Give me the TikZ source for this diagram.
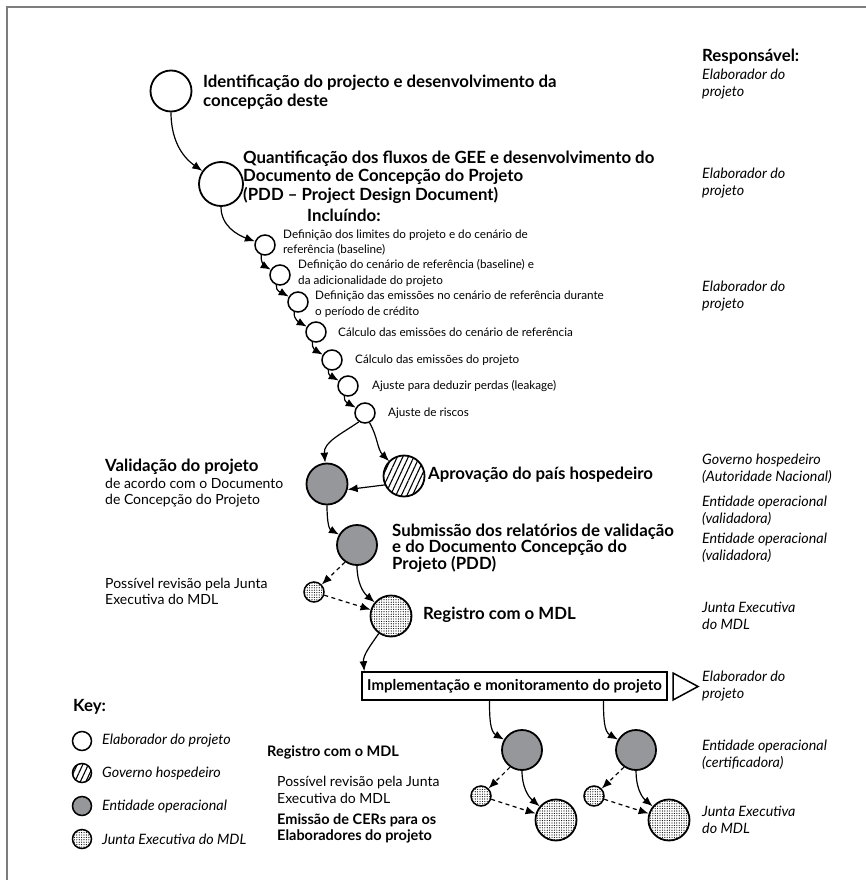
\documentclass[tikz,border=0pt]{standalone}
\usepackage{fontspec}
\setmainfont{Lato}
\usetikzlibrary{arrows.meta,patterns.meta}
\definecolor{opgray}{RGB}{150,151,154}
\definecolor{framegray}{RGB}{125,125,125}
\tikzset{stage/.style={circle,draw,line width=1.8pt,inner sep=0pt,minimum size=41pt},
    substage/.style={circle,draw,line width=1.5pt,inner sep=0pt,minimum size=20pt},
    keycircle/.style={circle,draw,line width=1.5pt,inner sep=0pt,minimum size=19pt},
    elab/.style={fill=white},
    gov/.style={pattern={Lines[angle=65,distance=5pt,line width=1.1pt]}},
    opent/.style={fill=opgray},
    junta/.style={pattern={Dots[distance=2.4pt,radius=0.6pt]}},
    flow/.style={-{Latex[length=10pt,width=8pt]},line width=1.2pt},
    review/.style={flow,dash pattern=on 4pt off 3.5pt},
    txt/.style={anchor=west,align=left,inner sep=0pt},
    headtxt/.style={txt,font=\fontsize{16.8}{18.5}\selectfont\bfseries},
    steptxt/.style={txt,font=\fontsize{11.7}{15.5}\selectfont},
    bodytxt/.style={txt,font=\fontsize{14}{16.5}\selectfont},
    resptxt/.style={txt,font=\fontsize{14.3}{16.5}\selectfont\itshape},
    legtxt/.style={txt,font=\fontsize{14.5}{16.5}\selectfont\bfseries}}

\begin{document}
\begin{tikzpicture}[x=1pt,y=1pt]
\path[use as bounding box] (0,0) rectangle (866,-883);
\draw[framegray,line width=1.5pt] (7,-880) -- (7,-7) -- (866,-7);

\node[headtxt] (resp) at (702,-57) {Responsável:};
\node[resptxt] (r1) at (702,-84) {Elaborador do\\projeto};
\node[resptxt] (r2) at (702,-183) {Elaborador do\\projeto};
\node[resptxt] (r3) at (702,-296) {Elaborador do\\projeto};
\node[resptxt] (r4) at (702,-469) {Governo hospedeiro\\(Autoridade Nacional)};
\node[resptxt] (r5) at (702,-511) {Entidade operacional\\(validadora)};
\node[resptxt] (r6) at (702,-548) {Entidade operacional\\(validadora)};
\node[resptxt] (r7) at (702,-616) {Junta Executiva\\do MDL};
\node[resptxt] (r8) at (702,-686) {Elaborador do\\projeto};
\node[resptxt] (r9) at (702,-755) {Entidade operacional\\(certificadora)};
\node[resptxt] (r10) at (702,-820) {Junta Executiva\\do MDL};

\node[stage,elab] (ident) at (171,-91) {};
\node[headtxt,font=\fontsize{16.8}{19}\selectfont\bfseries] (identt) at (203,-92.5) {Identificação do projecto e desenvolvimento da\\concepção deste};
\node[stage,elab,minimum size=44pt] (quant) at (221,-184) {};
\node[headtxt] (quantt) at (243,-177) {Quantificação dos fluxos de GEE e desenvolvimento do\\Documento de Concepção do Projeto\\(PDD – Project Design Document)};
\node[headtxt] (incl) at (307,-215) {Incluíndo:};

\node[substage,elab] (lim) at (265,-245) {};
\node[steptxt] (limt) at (283,-242.5) {Definição dos limites do projeto e do cenário de\\referência (baseline)};
\node[substage,elab] (adic) at (280,-275) {};
\node[steptxt] (adict) at (298,-273) {Definição do cenário de referência (baseline) e\\da adicionalidade do projeto};
\node[substage,elab] (emref) at (298,-302) {};
\node[steptxt] (emreft) at (315,-304) {Definição das emissões no cenário de referência durante\\o período de crédito};
\node[substage,elab] (calref) at (316,-332) {};
\node[steptxt] (calreft) at (338,-332) {Cálculo das emissões do cenário de referência};
\node[substage,elab] (calproj) at (332,-360) {};
\node[steptxt] (calprojt) at (355,-360) {Cálculo das emissões do projeto};
\node[substage,elab] (leak) at (348,-386) {};
\node[steptxt] (leakt) at (372,-386) {Ajuste para deduzir perdas (leakage)};
\node[substage,elab] (risk) at (365,-413) {};
\node[steptxt] (riskt) at (388,-413) {Ajuste de riscos};

\node[stage,opent] (valid) at (327,-484) {};
\node[bodytxt] (validt) at (105,-483.5) {\fontsize{16.8}{16.5}\selectfont\bfseries Validação do projeto\\
    de acordo com o Documento\\de Concepção do Projeto};
\node[stage,gov] (aprov) at (404,-476) {};
\node[headtxt] (aprovt) at (428,-475) {Aprovação do país hospedeiro};
\node[stage,opent,minimum size=40pt] (subm) at (357,-545) {};
\node[headtxt,font=\fontsize{16.8}{16.5}\selectfont\bfseries] (submt) at (392,-548) {Submissão dos relatórios de validação\\e do Documento Concepção do\\Projeto (PDD)};
\node[substage,junta] (rev) at (314,-592) {};
\node[bodytxt] (revt) at (105,-591.5) {Possível revisão pela Junta\\Executiva do MDL};
\node[stage,junta] (reg) at (391,-616) {};
\node[headtxt] (regt) at (423,-615) {Registro com o MDL};

\node[draw,line width=1.5pt,minimum width=305pt,minimum height=28pt,inner sep=0pt,
    font=\fontsize{15}{16}\selectfont\bfseries] (impl) at (514.5,-686) {Implementação e monitoramento do projeto};
\draw[line width=1.5pt] (673,-673) -- (698,-686.5) -- (673,-700) -- cycle;

\node[stage,opent,minimum size=40pt] (cert1) at (522,-750) {};
\node[substage,junta] (rev1) at (481,-796) {};
\node[stage,junta] (cer1) at (556,-820) {};
\node[stage,opent,minimum size=40pt] (cert2) at (636,-750) {};
\node[substage,junta] (rev2) at (594,-796) {};
\node[stage,junta] (cer2) at (669,-820) {};

\draw[flow] (ident.south) to[out=-90,in=145] (quant);
\draw[flow] (quant.south) to[out=-90,in=160] (lim);
\draw[flow] (lim.250) to[out=-100,in=150] (adic);
\draw[flow] (adic.250) to[out=-100,in=150] (emref);
\draw[flow] (emref.250) to[out=-100,in=150] (calref);
\draw[flow] (calref.250) to[out=-100,in=150] (calproj);
\draw[flow] (calproj.250) to[out=-100,in=150] (leak);
\draw[flow] (leak.250) to[out=-100,in=150] (risk);
\draw[flow] (risk.235) to[out=215,in=95] (valid);
\draw[flow] (risk.295) to[out=-60,in=135] (aprov);
\draw[flow] (aprov.205) -- (valid.-15);
\draw[flow] (valid.south) to[out=-90,in=150] (subm);
\draw[review] (subm.235) -- (rev);
\draw[review] (rev) -- (reg);
\draw[flow] (subm.south) to[out=-90,in=140] (reg);
\draw[flow] (reg.235) to[out=235,in=95] ([xshift=3pt]impl.north west);
\draw[flow] ([xshift=-25pt]impl.south) to[out=-90,in=150] (cert1);
\draw[review] (cert1.235) -- (rev1);
\draw[review] (rev1) -- (cer1);
\draw[flow] (cert1.south) to[out=-90,in=140] (cer1);
\draw[flow] ([xshift=89pt]impl.south) to[out=-90,in=150] (cert2);
\draw[review] (cert2.235) -- (rev2);
\draw[review] (rev2) -- (cer2);
\draw[flow] (cert2.south) to[out=-90,in=140] (cer2);

\node[headtxt] (key) at (73,-707) {Key:};
\node[keycircle,elab] (k1) at (82,-741) {};
\node[resptxt] (k1t) at (102,-741) {Elaborador do projeto};
\node[keycircle,gov] (k2) at (82,-773) {};
\node[resptxt] (k2t) at (102,-773) {Governo hospedeiro};
\node[keycircle,opent] (k3) at (82,-806) {};
\node[resptxt] (k3t) at (102,-806) {Entidade operacional};
\node[keycircle,junta] (k4) at (82,-839) {};
\node[resptxt] (k4t) at (102,-839) {Junta Executiva do MDL};

\node[legtxt] (lreg) at (267,-752) {Registro com o MDL};
\node[bodytxt] (lrev) at (277,-790) {Possível revisão pela Junta\\Executiva do MDL};
\node[legtxt] (lcer) at (277,-828.5) {Emissão de CERs para os\\Elaboradores do projeto};
\end{tikzpicture}
\end{document}
